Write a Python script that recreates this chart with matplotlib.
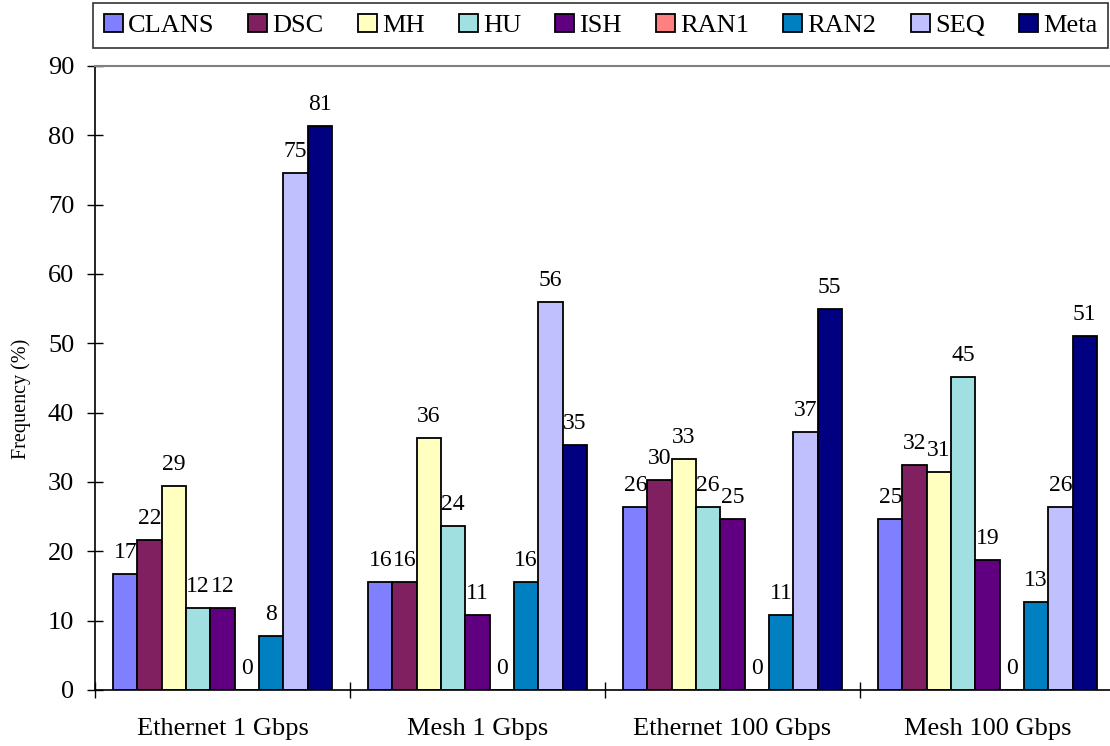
import numpy as np
import matplotlib.pyplot as plt
from matplotlib.patches import Patch

plt.rcParams['font.family'] = ['Liberation Serif', 'DejaVu Serif']

# data
groups = ['Ethernet 1 Gbps', 'Mesh 1 Gbps', 'Ethernet 100 Gbps', 'Mesh 100 Gbps']
series = ['CLANS', 'DSC', 'MH', 'HU', 'ISH', 'RAN1', 'RAN2', 'SEQ', 'Meta']
clans = [16.7, 15.6, 26.4, 24.6]
dsc = [21.6, 15.6, 30.3, 32.4]
mh = [29.4, 36.3, 33.3, 31.4]
hu = [11.8, 23.6, 26.4, 45.1]
ish = [11.8, 10.8, 24.6, 18.7]
ran1 = [0, 0, 0, 0]
ran2 = [7.8, 15.6, 10.8, 12.7]
seq = [74.6, 55.9, 37.2, 26.4]
meta = [81.4, 35.3, 55.0, 51.0]
values = [clans, dsc, mh, hu, ish, ran1, ran2, seq, meta]
colors = ['#8080FF', '#802060', '#FFFFC0', '#A0E0E0', '#600080',
          '#FF8080', '#0080C0', '#C0C0FF', '#000080']

fig = plt.figure(figsize=(11.10, 7.46), dpi=100)
ax = fig.add_axes([95 / 1110, 56 / 746, 1020 / 1110, 624 / 746])

width = 0.0953
n = len(series)
centers = np.arange(len(groups)) + 0.5
for i, (name, vals, col) in enumerate(zip(series, values, colors)):
    x = centers + (i - (n - 1) / 2) * width
    bars = ax.bar(x, vals, width, color=col, edgecolor='black', linewidth=1.3, label=name)
    for b, v in zip(bars, vals):
        ax.annotate(f'{v:.0f}', (b.get_x() + b.get_width() / 2, v),
                    xytext=(0, 11.5), textcoords='offset points',
                    ha='center', va='baseline', fontsize=17)

ax.set_xlim(0, len(groups))
ax.set_ylim(0, 90)
ax.set_yticks(np.arange(0, 91, 10))
ax.set_xticks(centers)
ax.set_xticklabels(groups)
ax.set_xticks(np.arange(0, len(groups) + 1), minor=True)
ax.tick_params(axis='x', which='major', length=0, pad=20, labelsize=19)
ax.tick_params(axis='x', which='minor', direction='inout', length=12, width=1)
ax.tick_params(axis='y', direction='inout', length=12, width=1, pad=9, labelsize=19)
ax.set_ylabel('Frequency (%)', fontsize=14.5)
ax.yaxis.set_label_coords(-0.063, 0.466)

ax.spines['right'].set_visible(False)
ax.spines['top'].set_color('#808080')
ax.spines['top'].set_linewidth(1.5)
for s in ['left', 'bottom']:
    ax.spines[s].set_linewidth(1.2)

handles = [Patch(facecolor=c, edgecolor='black', linewidth=1.3) for c in colors]
leg = fig.legend(handles, series, loc='upper left',
                 bbox_to_anchor=(93 / 1110, 1 - 3 / 746, 1015 / 1110, 0),
                 mode='expand', ncol=9, fontsize=19, frameon=True, fancybox=False,
                 edgecolor='black', handlelength=0.72, handleheight=0.72,
                 handletextpad=0.2, columnspacing=0.8, borderpad=0.4,
                 borderaxespad=0)
leg.get_frame().set_linewidth(1.2)

fig.savefig('out.png', dpi=100, facecolor='white')
